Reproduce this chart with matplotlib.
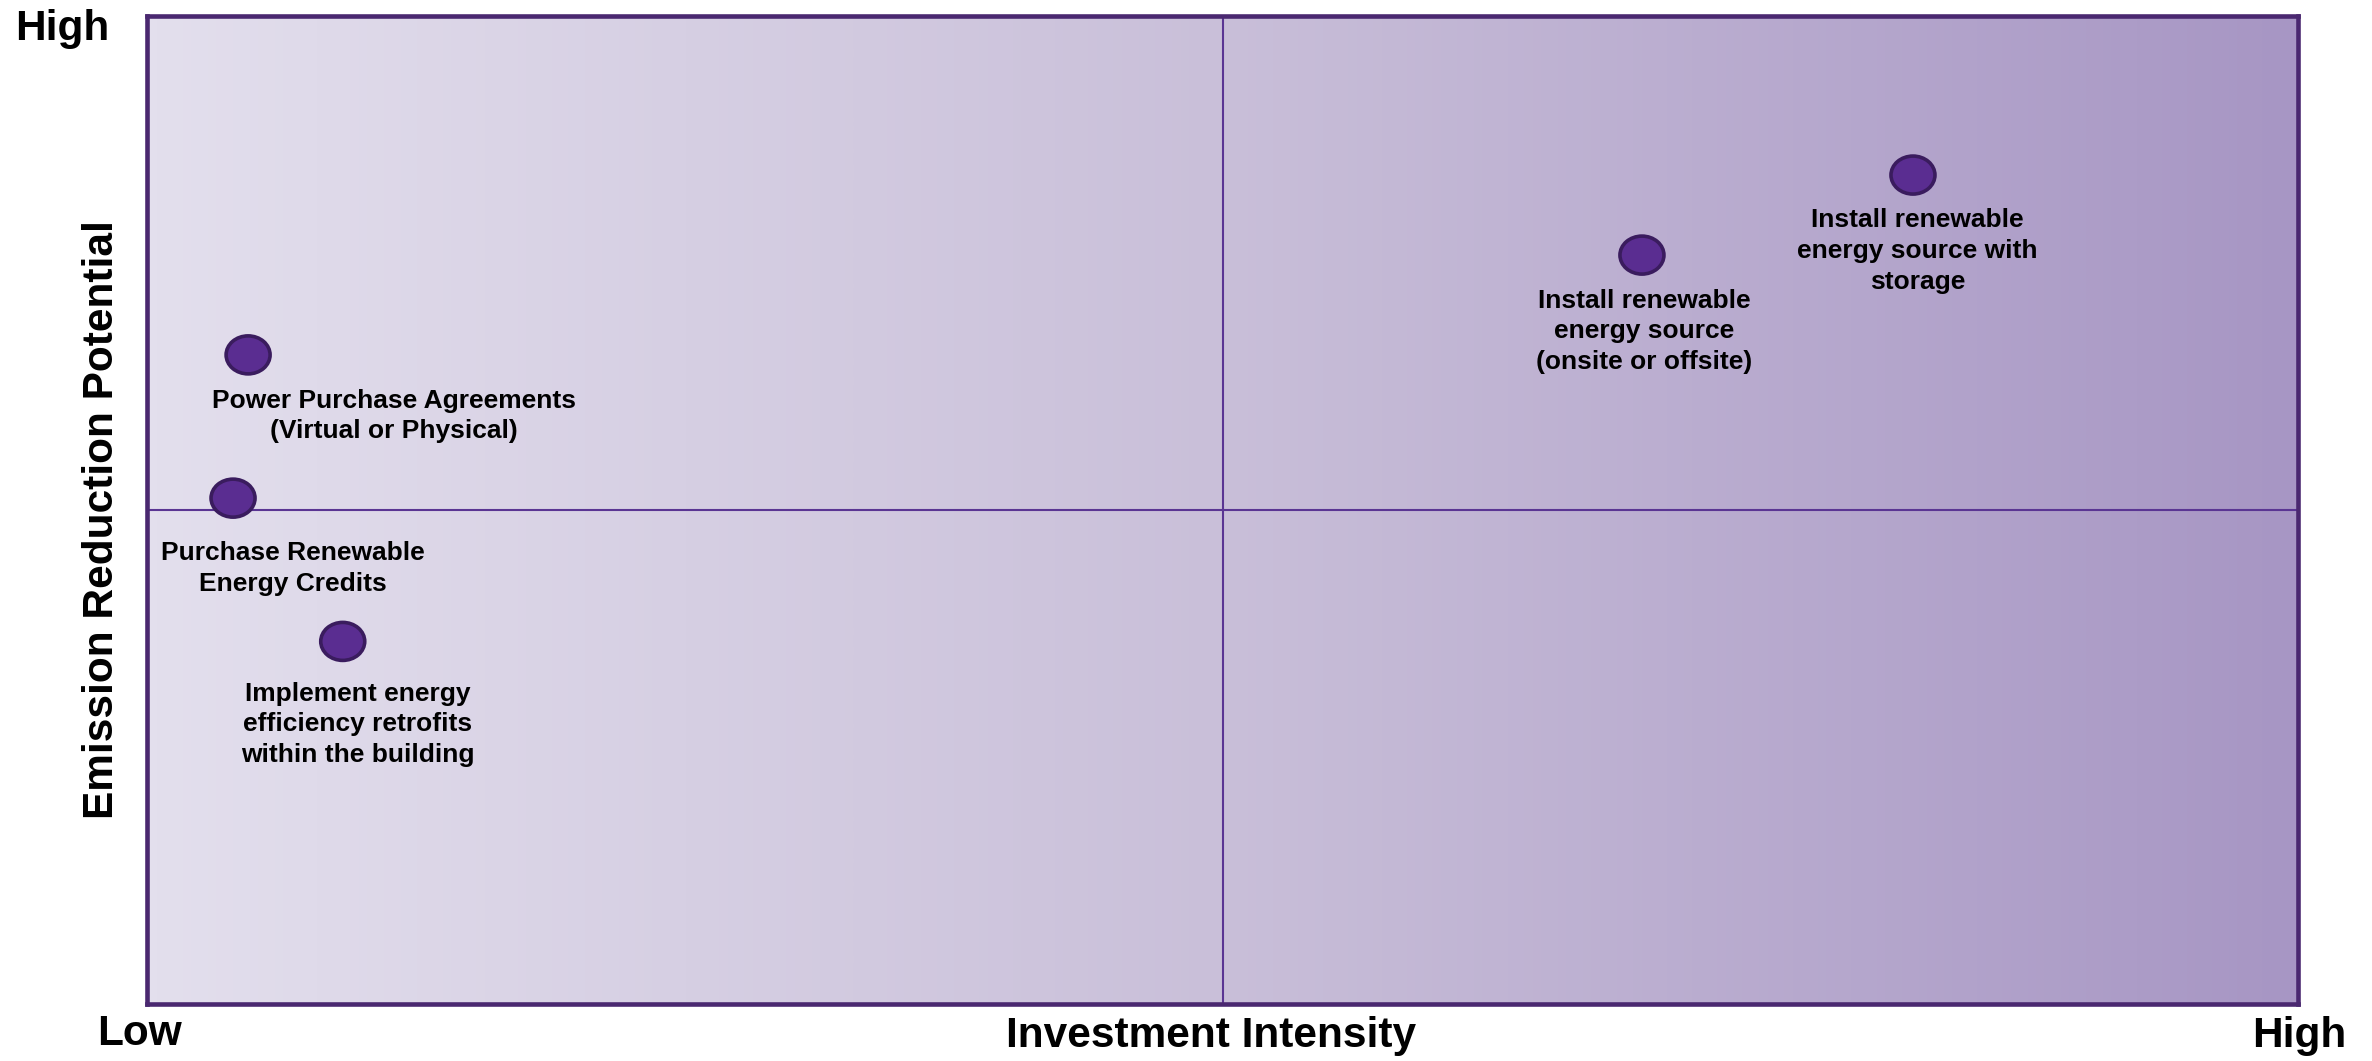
import numpy as np
import matplotlib
matplotlib.use("Agg")
import matplotlib.pyplot as plt
from matplotlib.patches import Ellipse
from matplotlib.colors import LinearSegmentedColormap

# Data (0-10 scale on both axes)
labels = [
    "Power Purchase Agreements\n(Virtual or Physical)",
    "Purchase Renewable\nEnergy Credits",
    "Implement energy\nefficiency retrofits\nwithin the building",
    "Install renewable\nenergy source\n(onsite or offsite)",
    "Install renewable\nenergy source with\nstorage",
]
investment = [0.47, 0.40, 0.91, 6.95, 8.21]
emission = [6.57, 5.12, 3.67, 7.58, 8.39]
label_x = [1.15, 0.68, 0.98, 6.96, 8.23]
label_y = [5.95, 4.41, 2.83, 6.81, 7.62]

plt.rcParams['font.family'] = ['Liberation Sans', 'DejaVu Sans']

fig = plt.figure(figsize=(23.72, 10.61), dpi=100)
ax = fig.add_axes([147/2372, 57/1061, 2151/2372, 988/1061])
ax.set_xlim(0, 10)
ax.set_ylim(0, 10)

cmap = LinearSegmentedColormap.from_list("grad", ["#e3dfed", "#c9bfd9", "#a796c4"])
grad = np.linspace(0, 1, 512).reshape(1, -1)
ax.imshow(grad, extent=[0, 10, 0, 10], aspect='auto', cmap=cmap, zorder=0,
          interpolation='bicubic')

ax.axvline(5, color="#5a3593", lw=1.5, zorder=1)
ax.axhline(5, color="#5a3593", lw=1.5, zorder=1)

for s in ax.spines.values():
    s.set_color("#4a2870")
    s.set_linewidth(3.3)
ax.set_xticks([])
ax.set_yticks([])

w = 44 / 2151 * 10
h = 38 / 988 * 10
for x, y in zip(investment, emission):
    ax.add_patch(Ellipse((x, y), w, h, facecolor="#5a2d91", edgecolor="#3a1c5e",
                         lw=2.6, zorder=3))

for t, x, y in zip(labels, label_x, label_y):
    ax.text(x, y, t, ha='center', va='center', fontsize=19, fontweight='bold',
            color='black', linespacing=1.35, zorder=4)

fig.text(62/2372, 1 - 29/1061, "High", ha='center', va='center', fontsize=30.5, fontweight='bold')
fig.text(139/2372, 1 - 1034/1061, "Low", ha='center', va='center', fontsize=30.5, fontweight='bold')
fig.text(2299/2372, 1 - 1036/1061, "High", ha='center', va='center', fontsize=30.5, fontweight='bold')
fig.text(1211/2372, 1 - 1036/1061, "Investment Intensity", ha='center', va='center',
         fontsize=30.5, fontweight='bold')
fig.text(102/2372, 1 - 520/1061, "Emission Reduction Potential", ha='center', va='center',
         fontsize=30.5, fontweight='bold', rotation=90)

fig.savefig("out.png", dpi=100)
